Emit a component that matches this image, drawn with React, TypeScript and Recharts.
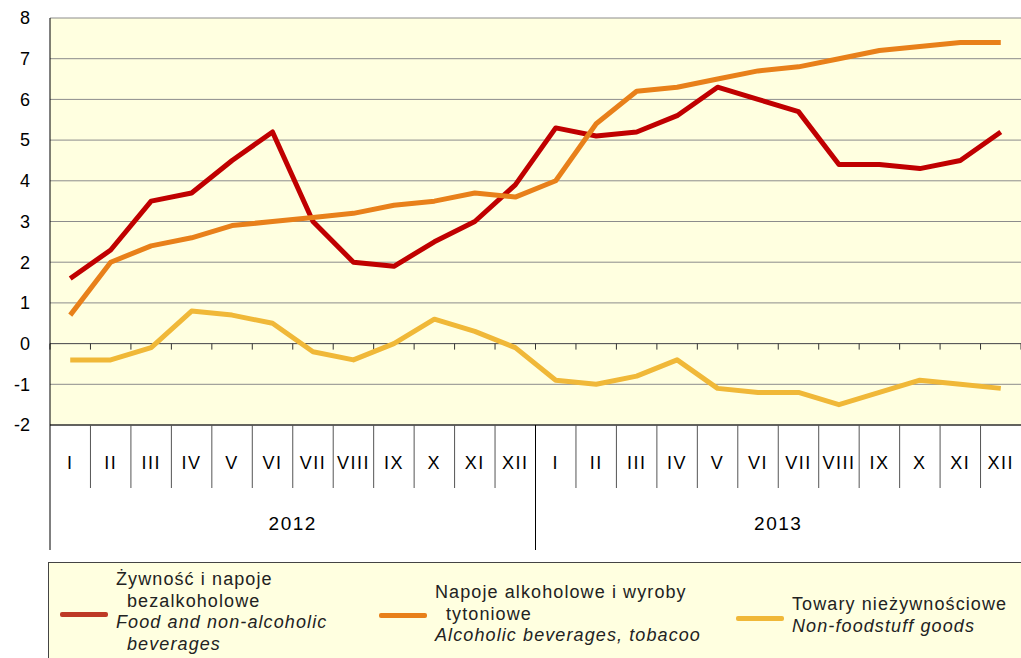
import { LineChart, Line, XAxis, YAxis, CartesianGrid, ReferenceLine } from 'recharts';

const years = ['2012', '2013'];
const months = ['I', 'II', 'III', 'IV', 'V', 'VI', 'VII', 'VIII', 'IX', 'X', 'XI', 'XII'];

const food = [1.6, 2.3, 3.5, 3.7, 4.5, 5.2, 3.0, 2.0, 1.9, 2.5, 3.0, 3.9, 5.3, 5.1, 5.2, 5.6, 6.3, 6.0, 5.7, 4.4, 4.4, 4.3, 4.5, 5.2];
const alcohol = [0.7, 2.0, 2.4, 2.6, 2.9, 3.0, 3.1, 3.2, 3.4, 3.5, 3.7, 3.6, 4.0, 5.4, 6.2, 6.3, 6.5, 6.7, 6.8, 7.0, 7.2, 7.3, 7.4, 7.4];
const nonFood = [-0.4, -0.4, -0.1, 0.8, 0.7, 0.5, -0.2, -0.4, 0.0, 0.6, 0.3, -0.1, -0.9, -1.0, -0.8, -0.4, -1.1, -1.2, -1.2, -1.5, -1.2, -0.9, -1.0, -1.1];

const yTicks = [-2, -1, 0, 1, 2, 3, 4, 5, 6, 7, 8];

const COLORS = { food: '#C00000', alcohol: '#E8801A', nonFood: '#F0B838' };
const BG = '#FFFFE0';
const FONT = '"Liberation Sans", Arial, sans-serif';

const data = food.map((v, i) => ({
  id: `${years[Math.floor(i / 12)]}-${months[i % 12]}`,
  food: v,
  alcohol: alcohol[i],
  nonFood: nonFood[i],
}));

// chart geometry
const W = 1021;
const H = 560;
const M_TOP = 18;
const M_LEFT = 50;
const X_AXIS_H = 135;
const PLOT_W = W - M_LEFT;
const PLOT_BOTTOM = H - X_AXIS_H;
const BW = PLOT_W / data.length;

function MonthTick(props: any) {
  const { x, index } = props;
  const left = x - BW / 2;
  const yearStart = index % 12 === 0;
  return (
    <g>
      <line x1={left} y1={PLOT_BOTTOM} x2={left} y2={yearStart ? 550 : 488} stroke={yearStart ? '#000' : '#555'} strokeWidth={1} />
      <text x={x} y={469} textAnchor="middle" fontSize={18} letterSpacing={1.5} fontFamily={FONT} fill="#000">
        {months[index % 12]}
      </text>
      {yearStart && (
        <text x={left + 6 * BW} y={530} textAnchor="middle" fontSize={19} letterSpacing={1.5} fontFamily={FONT} fill="#000">
          {years[Math.floor(index / 12)]}
        </text>
      )}
    </g>
  );
}

// zero line with little ticks at the category boundaries
function ZeroLine(props: any) {
  const { x1, y1, x2 } = props;
  const ticks = [];
  for (let i = 0; i <= data.length; i++) {
    const tx = x1 + i * BW;
    ticks.push(<line key={i} x1={tx} y1={y1} x2={tx} y2={y1 + 6} stroke="#333" strokeWidth={1} />);
  }
  return (
    <g>
      <line x1={x1} y1={y1} x2={x2} y2={y1} stroke="#555" strokeWidth={1} />
      {ticks}
    </g>
  );
}

function LegendItem({ color, lines, left, top, lineTop }: { color: string; lines: { t: string; it?: boolean; ind?: number }[]; left: number; top: number; lineTop: number }) {
  return (
    <>
      <div style={{ position: 'absolute', left: left, top: lineTop, width: 48, height: 5, borderRadius: 2, background: color }} />
      <div style={{ position: 'absolute', left: left + 56, top: top, fontFamily: FONT, fontSize: 18, letterSpacing: '1.1px', lineHeight: '21.5px', color: '#222' }}>
        {lines.map((l, i) => (
          <div key={i} style={{ fontStyle: l.it ? 'italic' : 'normal', paddingLeft: l.ind || 0, whiteSpace: 'nowrap' }}>{l.t}</div>
        ))}
      </div>
    </>
  );
}

export default function App() {
  return (
    <div style={{ position: 'relative', width: W, height: 658, overflow: 'hidden', background: '#fff' }}>
      <style>{'body{margin:0}'}</style>
      <LineChart width={W} height={H} data={data} margin={{ top: M_TOP, right: 0, left: 0, bottom: 0 }}>
        <CartesianGrid horizontal vertical={false} stroke="#8C8C8C" fill={BG} />
        <XAxis
          dataKey="id"
          scale="band"
          height={X_AXIS_H}
          interval={0}
          tickLine={false}
          axisLine={{ stroke: '#000' }}
          tick={<MonthTick />}
        />
        <YAxis
          width={M_LEFT}
          domain={[-2, 8]}
          ticks={yTicks}
          interval={0}
          tickLine={false}
          axisLine={{ stroke: '#000' }}
          tick={{ fontSize: 18, fontFamily: FONT, fill: '#000' }}
          tickMargin={14}
        />
        <ReferenceLine y={0} shape={<ZeroLine />} />
        <Line dataKey="food" stroke={COLORS.food} strokeWidth={5} dot={false} isAnimationActive={false} strokeLinejoin="round" />
        <Line dataKey="alcohol" stroke={COLORS.alcohol} strokeWidth={5} dot={false} isAnimationActive={false} strokeLinejoin="round" />
        <Line dataKey="nonFood" stroke={COLORS.nonFood} strokeWidth={5} dot={false} isAnimationActive={false} strokeLinejoin="round" />
      </LineChart>
      <div style={{ position: 'absolute', left: 48, top: 562, width: 1000, height: 120, border: '1px solid #444', background: BG }} />
      <LegendItem
        color="#BE3A26"
        left={60}
        top={569}
        lineTop={612}
        lines={[
          { t: 'Żywność i napoje' },
          { t: 'bezalkoholowe', ind: 11 },
          { t: 'Food and non-alcoholic', it: true },
          { t: 'beverages', ind: 11, it: true },
        ]}
      />
      <LegendItem
        color={COLORS.alcohol}
        left={379}
        top={582}
        lineTop={613}
        lines={[
          { t: 'Napoje alkoholowe i wyroby' },
          { t: 'tytoniowe', ind: 11 },
          { t: 'Alcoholic beverages, tobacoo', it: true },
        ]}
      />
      <LegendItem
        color={COLORS.nonFood}
        left={736}
        top={594}
        lineTop={616}
        lines={[
          { t: 'Towary nieżywnościowe' },
          { t: 'Non-foodstuff goods', it: true },
        ]}
      />
    </div>
  );
}
